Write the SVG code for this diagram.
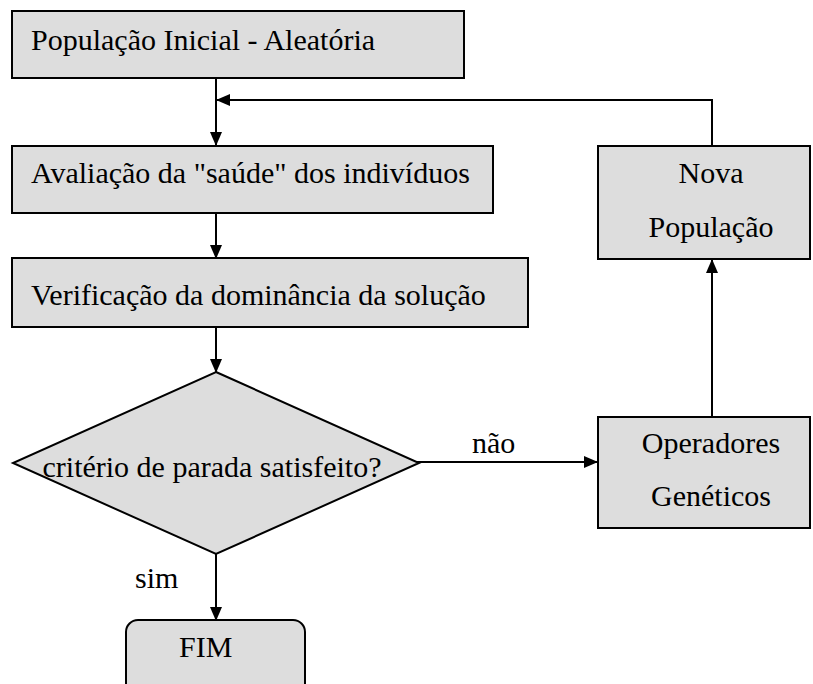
<svg xmlns="http://www.w3.org/2000/svg" width="813" height="684" viewBox="0 0 813 684">
<defs>
<marker id="ah" markerWidth="14" markerHeight="12" refX="13" refY="6" orient="auto" markerUnits="userSpaceOnUse">
<path d="M0,0 L14,6 L0,12 Z" fill="#000"/>
</marker>
<style>
.box{fill:#dddddd;stroke:#000;stroke-width:2}
.t{font-size:30px;fill:#000}
.c{text-anchor:middle}
.ln{fill:none;stroke:#000;stroke-width:2}
</style>
</defs>
<rect width="813" height="684" fill="#fff"/>
<g font-family="Liberation Serif, serif">
<g id="connectors">
<line class="ln" x1="216" y1="78" x2="216" y2="145" marker-end="url(#ah)"/>
<polyline class="ln" points="712,146 712,100 217,100" marker-end="url(#ah)"/>
<line class="ln" x1="216" y1="213" x2="216" y2="258" marker-end="url(#ah)"/>
<line class="ln" x1="216" y1="327" x2="216" y2="372" marker-end="url(#ah)"/>
<line class="ln" x1="417" y1="462" x2="597" y2="462" marker-end="url(#ah)"/>
<line class="ln" x1="712" y1="417" x2="712" y2="260" marker-end="url(#ah)"/>
<line class="ln" x1="216" y1="554" x2="216" y2="620" marker-end="url(#ah)"/>
<text class="t" x="472" y="453">não</text>
<text class="t" x="135" y="588">sim</text>
</g>
<g id="n1">
<rect class="box" x="12" y="11" width="452" height="67"/>
<text class="t" x="31" y="50">População Inicial - Aleatória</text>
</g>
<g id="n2">
<rect class="box" x="12" y="146" width="481" height="67"/>
<text class="t" x="31" y="183">Avaliação da "saúde" dos indivíduos</text>
</g>
<g id="n3">
<rect class="box" x="12" y="258" width="516" height="69"/>
<text class="t" x="31" y="305">Verificação da dominância da solução</text>
</g>
<g id="n4">
<polygon class="box" points="216,372 419,463 216,554 13,463"/>
<text class="t c" x="212" y="477">critério de parada satisfeito?</text>
</g>
<g id="n5">
<rect class="box" x="598" y="417" width="212" height="111"/>
<text class="t c" x="711" y="453">Operadores</text>
<text class="t c" x="711" y="506">Genéticos</text>
</g>
<g id="n6">
<rect class="box" x="598" y="146" width="212" height="113"/>
<text class="t c" x="711" y="183">Nova</text>
<text class="t c" x="711" y="237">População</text>
</g>
<g id="n7">
<rect class="box" x="126" y="620" width="179" height="80" rx="12" ry="12"/>
<text class="t" x="179" y="657">FIM</text>
</g>
</g>
</svg>
